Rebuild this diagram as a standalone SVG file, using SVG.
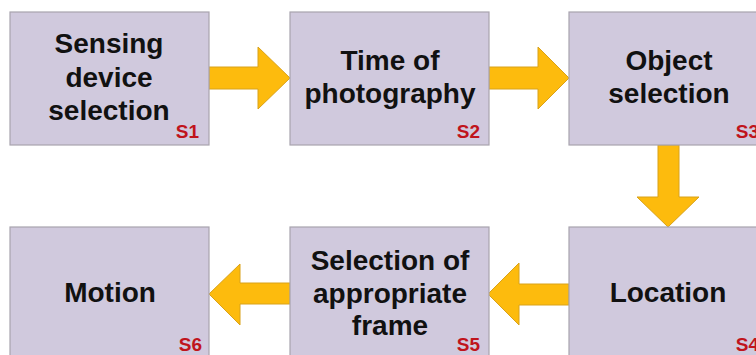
<svg xmlns="http://www.w3.org/2000/svg" width="756" height="355" viewBox="0 0 756 355">
<style>
.box{fill:#d0c9dd;stroke:#a8a4ae;stroke-width:1.2}
.t{font-family:"Liberation Sans",Arial,sans-serif;font-weight:bold;font-size:28px;fill:#111;text-anchor:middle}
.s{font-family:"Liberation Sans",Arial,sans-serif;font-weight:bold;font-size:19px;fill:#c0141c;text-anchor:end}
.arr{fill:#fdbb0d;stroke:#d9a21a;stroke-width:1}
</style>
<rect width="756" height="355" fill="#ffffff"/>
<g id="connectors">
<polygon class="arr" points="209,67 258,67 258,47 290,78 258,109 258,89 209,89"/>
<polygon class="arr" points="489,67 538,67 538,47 569,78 538,109 538,89 489,89"/>
<polygon class="arr" points="658,145 679,145 679,197 699,197 668,227 637,197 658,197"/>
<polygon class="arr" points="569,284 519,284 519,263 488,294 519,325 519,305 569,305"/>
<polygon class="arr" points="290,283 240,283 240,264 209,294 240,325 240,304 290,304"/>
</g>
<g id="S1">
<rect class="box" x="10" y="12" width="199" height="133"/>
<text class="t" x="109" y="53">Sensing</text>
<text class="t" x="109" y="87">device</text>
<text class="t" x="109" y="120">selection</text>
<text class="s" x="199" y="138">S1</text>
</g>
<g id="S2">
<rect class="box" x="290" y="12" width="199" height="133"/>
<text class="t" x="390" y="70">Time of</text>
<text class="t" x="390" y="103">photography</text>
<text class="s" x="480" y="138">S2</text>
</g>
<g id="S3">
<rect class="box" x="569" y="12" width="200" height="133"/>
<text class="t" x="669" y="70">Object</text>
<text class="t" x="669" y="103">selection</text>
<text class="s" x="759" y="138">S3</text>
</g>
<g id="S4">
<rect class="box" x="569" y="227" width="200" height="140"/>
<text class="t" x="668" y="302">Location</text>
<text class="s" x="759" y="351">S4</text>
</g>
<g id="S5">
<rect class="box" x="290" y="227" width="199" height="140"/>
<text class="t" x="390" y="270">Selection of</text>
<text class="t" x="390" y="303">appropriate</text>
<text class="t" x="390" y="335">frame</text>
<text class="s" x="480" y="351">S5</text>
</g>
<g id="S6">
<rect class="box" x="10" y="227" width="199" height="140"/>
<text class="t" x="110" y="302">Motion</text>
<text class="s" x="202" y="351">S6</text>
</g>
</svg>
